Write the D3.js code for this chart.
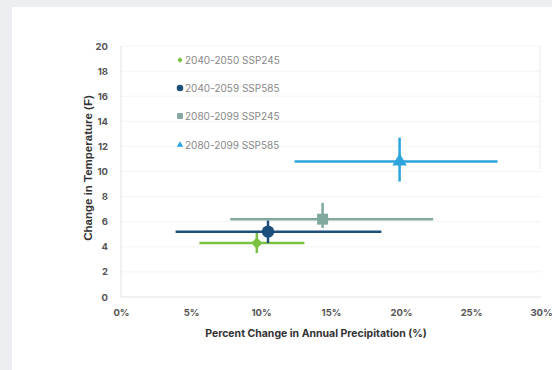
<!DOCTYPE html>
<html><head><meta charset="utf-8">
<script src="https://cdn.jsdelivr.net/npm/d3@7"></script>
<style>
html,body{margin:0;padding:0;background:#eceef1;}
svg{display:block;}
</style></head>
<body>
<svg id="c" width="552" height="370"></svg>
<script>
const series = ["2040-2050 SSP245","2040-2059 SSP585","2080-2099 SSP245","2080-2099 SSP585"];
const precip = [9.7, 10.5, 14.4, 19.9];
const precipLo = [5.6, 3.9, 7.8, 12.4];
const precipHi = [13.1, 18.6, 22.3, 26.9];
const temp = [4.3, 5.2, 6.2, 10.8];
const tempLo = [3.5, 4.3, 5.5, 9.2];
const tempHi = [5.1, 6.1, 7.5, 12.7];
const colors = ["#7cc242","#1d4f7c","#80a89f","#2da4de"];
const shapes = [d3.symbolSquare, d3.symbolCircle, d3.symbolSquare, d3.symbolTriangle];
const rot = [45, 0, 0, 0];
const xTicks = [0,5,10,15,20,25,30];
const yTicks = [0,2,4,6,8,10,12,14,16,18,20];

const svg = d3.select("#c");
svg.append("rect").attr("x",12).attr("y",7).attr("width",540).attr("height",363).attr("fill","#fff");

const x = d3.scaleLinear().domain([0,30]).range([121,541]);
const y = d3.scaleLinear().domain([0,20]).range([297,46]);

svg.append("g").selectAll("line").data(yTicks.slice(1)).join("line")
  .attr("x1",x(0)).attr("x2",x(30)).attr("y1",d=>y(d)).attr("y2",d=>y(d))
  .attr("stroke","#f4f4f4").attr("stroke-width",1);
svg.append("line").attr("x1",x(0)).attr("x2",x(0)).attr("y1",y(20)).attr("y2",y(0)).attr("stroke","#e2e2e2");
svg.append("line").attr("x1",x(0)).attr("x2",x(30)).attr("y1",y(0)).attr("y2",y(0)).attr("stroke","#e2e2e2");
svg.append("line").attr("x1",x(30)-1).attr("x2",x(30)-1).attr("y1",y(20)).attr("y2",y(10.2)).attr("stroke","#ececec");

const font = "Inter, 'Open Sans', Roboto, sans-serif";
const yAxis = d3.axisLeft(y).tickValues(yTicks).tickSize(0).tickPadding(0);
const ya = svg.append("g").attr("transform","translate(108,0)").call(yAxis);
ya.select(".domain").remove();
ya.selectAll("text").attr("font-family",font).attr("font-size",9.5).attr("font-weight",700).attr("fill","#555");

const xAxis = d3.axisBottom(x).tickValues(xTicks).tickFormat(d=>d+"%").tickSize(0).tickPadding(0);
const xa = svg.append("g").attr("transform","translate(0,309)").call(xAxis);
xa.select(".domain").remove();
xa.selectAll("text").attr("font-family",font).attr("font-size",9.5).attr("font-weight",700).attr("fill","#555");

svg.append("text").attr("transform","translate(92,168) rotate(-90)").attr("text-anchor","middle")
  .attr("font-family","'Liberation Sans', Arial, sans-serif").attr("font-size",11.5).attr("font-weight",700).attr("fill","#333")
  .text("Change in Temperature (F)");
svg.append("text").attr("x",316).attr("y",337).attr("text-anchor","middle")
  .attr("font-family",font).attr("font-size",10.5).attr("font-weight",700).attr("fill","#333")
  .text("Percent Change in Annual Precipitation (%)");

const idx = d3.range(series.length);
const g = svg.append("g");
idx.forEach(i=>{
  g.append("line").attr("x1",x(precipLo[i])).attr("x2",x(precipHi[i])).attr("y1",y(temp[i])).attr("y2",y(temp[i]))
    .attr("stroke",colors[i]).attr("stroke-width",2.5);
  g.append("line").attr("x1",x(precip[i])).attr("x2",x(precip[i])).attr("y1",y(tempLo[i])).attr("y2",y(tempHi[i]))
    .attr("stroke",colors[i]).attr("stroke-width",2.5);
});
const sizes = [64, 120, 120, 90];
g.selectAll("path.pt").data(idx).join("path").attr("class","pt")
  .attr("transform",i=>`translate(${x(precip[i])},${y(temp[i])}) rotate(${rot[i]})`)
  .attr("d",i=>d3.symbol().type(shapes[i]).size(sizes[i])())
  .attr("fill",i=>colors[i]);

const leg = svg.append("g");
const legY = [60, 88, 116, 145];
const lsizes = [14, 34, 34, 18];
idx.forEach(i=>{
  leg.append("path").attr("transform",`translate(180,${legY[i]}) rotate(${rot[i]})`)
    .attr("d",d3.symbol().type(shapes[i]).size(lsizes[i])())
    .attr("fill",colors[i]);
  leg.append("text").attr("x",185).attr("y",legY[i]+3.5).attr("font-family",font).attr("font-size",10)
    .attr("fill","#888").text(series[i]);
});
</script>
</body></html>
